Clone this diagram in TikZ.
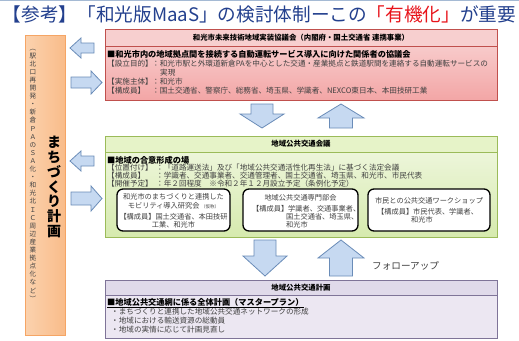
\documentclass[tikz,border=0pt]{standalone}
\usepackage{fontspec}
\usepackage{graphicx}
\setmainfont{Noto Sans CJK JP}
\definecolor{navy}{HTML}{23408E}
\definecolor{ttred}{HTML}{E8141B}
\definecolor{txtgray}{HTML}{404040}
\definecolor{redline}{HTML}{C0504D}
\definecolor{redtop}{HTML}{F9D6D6}
\definecolor{redbot}{HTML}{F3A6A6}
\definecolor{redhead}{HTML}{F7CFCF}
\definecolor{grnline}{HTML}{9BBB59}
\definecolor{grntop}{HTML}{F1F8E2}
\definecolor{grnbot}{HTML}{D6EAAE}
\definecolor{grnhead}{HTML}{E6F3C8}
\definecolor{purline}{HTML}{7F7498}
\definecolor{purbody}{HTML}{ECE7F2}
\definecolor{purhead}{HTML}{E0DAEA}
\definecolor{orline}{HTML}{F5A565}
\definecolor{orleft}{HTML}{FBD2AE}
\definecolor{orright}{HTML}{F9BC8A}
\definecolor{arrfill}{HTML}{C6D9F1}
\definecolor{arrline}{HTML}{6A8CB8}
\begin{document}
\begin{tikzpicture}[x=1pt,y=-1pt,
  body/.style={anchor=west, inner sep=0pt, font=\fontsize{7.6}{9}\selectfont, text=txtgray},
  bhead/.style={anchor=west, inner sep=0pt, font=\fontsize{8.2}{9}\selectfont\bfseries, text=black},
  hdr/.style={inner sep=0pt, font=\fontsize{7.4}{9}\selectfont\bfseries, text=black},
  sub/.style={inner sep=0pt, font=\fontsize{7.2}{8.5}\selectfont, text=txtgray},
  subbox/.style={draw=black, line width=1.3pt, rounded corners=6pt, fill=white},
  blockarr/.style={fill=arrfill, draw=arrline, line width=0.8pt, line join=miter}]
\useasboundingbox (0,0) rectangle (519,340);
\fill[white] (0,0) rectangle (519,340);
\draw[arrline!60, line width=1pt] (0,0.8) -- (519,0.8);

% title
\node[inner sep=0pt] (title) at (259.5,14)
  {\resizebox{513pt}{!}{\fontsize{18}{20}\selectfont{\color{navy}【参考】「和光版MaaS」の検討体制ーこの}{\color{ttred}「有機化」}{\color{navy}が重要}}};

% left orange box
\shade[left color=orleft, right color=orright] (25,35) rectangle (65,335);
\draw[orline, line width=0.8pt] (25,35) rectangle (65,335);
\node[inner sep=0pt, align=center, font=\fontsize{14}{14.8}\selectfont\bfseries] (machi) at (54,187)
  {ま\\ち\\づ\\く\\り\\計\\画};
\node[inner sep=0pt, align=center, text=txtgray, font=\fontsize{6.6}{8.1}\selectfont] (machisub) at (33,175)
  {︵\\駅\\北\\口\\再\\開\\発\\・\\新\\倉\\Ｐ\\Ａ\\の\\Ｓ\\Ａ\\化\\・\\和\\光\\北\\Ｉ\\Ｃ\\周\\辺\\産\\業\\拠\\点\\化\\な\\ど\\︶};

% side arrows
\draw[blockarr] (70,48) -- (81,38) -- (81,43) -- (94,43) -- (94,53) -- (81,53) -- (81,58) -- cycle;
\draw[blockarr] (102,82.5) -- (91,71) -- (91,77) -- (71,77) -- (71,88) -- (91,88) -- (91,94) -- cycle;
\draw[blockarr] (70,161) -- (81,151) -- (81,156) -- (94,156) -- (94,166) -- (81,166) -- (81,171) -- cycle;
\draw[blockarr] (102,198.5) -- (91,186) -- (91,192) -- (71,192) -- (71,205) -- (91,205) -- (91,211) -- cycle;

% red box
\shade[top color=redtop, bottom color=redbot] (105,29) rectangle (497,100);
\fill[redhead] (105,29) rectangle (497,46);
\draw[redline, line width=1pt] (105,29) rectangle (497,100);
\draw[redline, line width=1pt] (105,46) -- (497,46);
\node[hdr] (rh) at (301,38) {和光市未来技術地域実装協議会（内閣府・国土交通省 連携事業）};
\node[bhead] (r1) at (107,54) {■和光市内の地域拠点間を接続する自動運転サービス導入に向けた関係者の協議会};
\node[body] (r2a) at (107,64) {【設立目的】};
\node[body] (r2b) at (152,64) {：和光市駅と外環道新倉PAを中心とした交通・産業拠点と鉄道駅間を連絡する自動運転サービスの};
\node[body] (r3) at (160,73) {実現};
\node[body] (r4a) at (107,82) {【実施主体】};
\node[body] (r4b) at (152,82) {：和光市};
\node[body] (r5a) at (107,91) {【構成員】};
\node[body] (r5b) at (152,91) {：国土交通省、警察庁、総務省、埼玉県、学識者、NEXCO東日本、本田技研工業};

% arrows red-green
\draw[blockarr] (251,104) -- (273,104) -- (273,114) -- (284,114) -- (262,128) -- (240,114) -- (251,114) -- cycle;
\draw[blockarr] (341,104) -- (364,118) -- (352.5,118) -- (352.5,128) -- (329.5,128) -- (329.5,118) -- (318,118) -- cycle;

% green box
\shade[top color=grntop, bottom color=grnbot] (105,136) rectangle (497,237);
\fill[grnhead] (105,136) rectangle (497,152);
\draw[grnline, line width=1pt] (105,136) rectangle (497,237);
\draw[grnline, line width=1pt] (105,152) -- (497,152);
\node[hdr] (gh) at (301,144) {地域公共交通会議};
\node[bhead] (g1) at (107,160) {■地域の合意形成の場};
\node[body] (g2a) at (107,168) {【位置付け】};
\node[body] (g2b) at (156,168) {：「道路運送法」及び「地域公共交通活性化再生法」に基づく法定会議};
\node[body] (g3a) at (107,176) {【構成員】};
\node[body] (g3b) at (156,176) {：学識者、交通事業者、交通管理者、国土交通省、埼玉県、和光市、市民代表};
\node[body] (g4a) at (107,184) {【開催予定】};
\node[body] (g4b) at (156,184) {：年２回程度　※令和２年１２月設立予定（条例化予定）};

% sub boxes
\draw[subbox] (117,189) rectangle (230,231);
\node[sub] (s1a) at (173.5,197) {和光市のまちづくりと連携した};
\node[sub] (s1b) at (173.5,206) {モビリティ導入研究会 {\fontsize{4.5}{5}\selectfont（仮称）}};
\node[sub] (s1c) at (173.5,217) {【構成員】国土交通省、本田技研};
\node[sub] (s1d) at (173.5,225) {工業、和光市};

\draw[subbox] (243,189) rectangle (358,231);
\node[sub] (s2a) at (300.5,198) {地域公共交通専門部会};
\node[sub, anchor=west] (s2b) at (252,209) {【構成員】学識者、交通事業者、};
\node[sub, anchor=west] (s2c) at (286,217) {国土交通省、埼玉県、};
\node[sub, anchor=west] (s2d) at (286,225) {和光市};

\draw[subbox] (368,189) rectangle (490,231);
\node[sub] (s3a) at (429,201) {市民との公共交通ワークショップ};
\node[sub, anchor=west] (s3b) at (377,212) {【構成員】市民代表、学識者、};
\node[sub, anchor=west] (s3c) at (411,220) {和光市};

% arrows green-purple
\draw[blockarr] (254,240) -- (276,240) -- (276,256) -- (287,256) -- (265,276) -- (243,256) -- (254,256) -- cycle;
\draw[blockarr] (341,240) -- (364,258) -- (352.5,258) -- (352.5,276) -- (329.5,276) -- (329.5,258) -- (318,258) -- cycle;
\node[anchor=west, inner sep=0pt, text=txtgray, font=\fontsize{9.6}{11}\selectfont] (follow) at (372,266) {フォローアップ};

% purple box
\fill[purbody] (105,280) rectangle (497,338);
\fill[purhead] (105,280) rectangle (497,295);
\draw[purline, line width=1pt] (105,280) rectangle (497,338);
\draw[purline, line width=1pt] (105,295) -- (497,295);
\node[hdr] (ph) at (301,288) {地域公共交通計画};
\node[bhead] (p1) at (107,303) {\underline{■地域公共交通網に係る全体計画（マスタープラン）}};
\node[body] (p2) at (111,312) {・まちづくりと連携した地域公共交通ネットワークの形成};
\node[body] (p3) at (111,321) {・地域における輸送資源の総動員};
\node[body] (p4) at (111,330) {・地域の実情に応じて計画見直し};
\end{tikzpicture}
\end{document}
